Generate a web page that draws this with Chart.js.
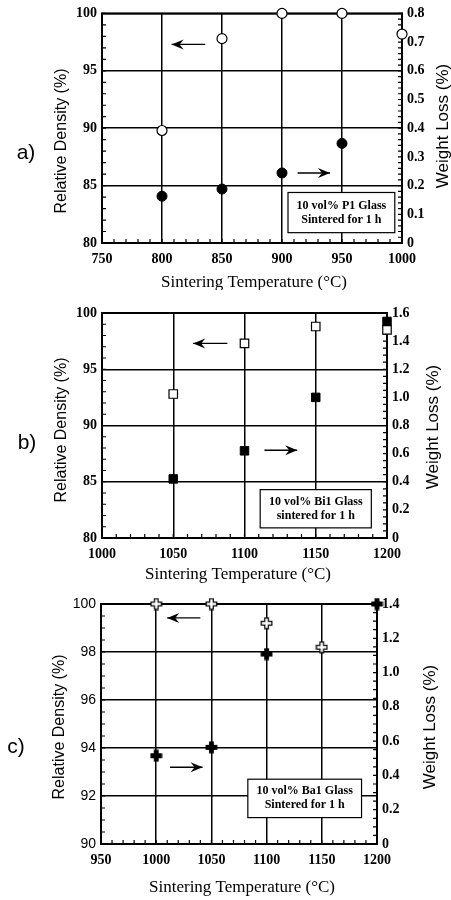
<!DOCTYPE html>
<html>
<head>
<title>Sintering Temperature charts</title>
<script src="https://cdn.jsdelivr.net/npm/chart.js"></script>
<style>
body { margin: 0; background: #fff; }
canvas { position: absolute; left: 0; }
</style>
</head>
<body>
<canvas id="chart-a" width="451" height="290" style="top:0px"></canvas>
<canvas id="chart-b" width="451" height="300" style="top:290px"></canvas>
<canvas id="chart-c" width="451" height="310" style="top:590px"></canvas>
<script>
// a) 10 vol% P1 glass
const aDensTemps = [800, 850, 900, 950, 1000];
const aDensity = [89.8, 97.8, 100, 100, 98.2];
const aLossTemps = [800, 850, 900, 950];
const aLoss = [0.163, 0.188, 0.244, 0.347];
const aXTicks = [750, 800, 850, 900, 950, 1000];
const aYTicks = [80, 85, 90, 95, 100];
const aY2Ticks = [0, 0.1, 0.2, 0.3, 0.4, 0.5, 0.6, 0.7, 0.8];

// b) 10 vol% Bi1 glass
const bDensTemps = [1050, 1100, 1150, 1200];
const bDensity = [92.8, 97.3, 98.8, 98.5];
const bLossTemps = [1050, 1100, 1150, 1200];
const bLoss = [0.42, 0.62, 1.0, 1.54];
const bXTicks = [1000, 1050, 1100, 1150, 1200];
const bYTicks = [80, 85, 90, 95, 100];
const bY2Ticks = [0, 0.2, 0.4, 0.6, 0.8, 1.0, 1.2, 1.4, 1.6];

// c) 10 vol% Ba1 glass
const cDensTemps = [1000, 1050, 1100, 1150];
const cDensity = [100, 100, 99.2, 98.2];
const cLossTemps = [1000, 1050, 1100, 1200];
const cLoss = [0.515, 0.564, 1.108, 1.4];
const cXTicks = [950, 1000, 1050, 1100, 1150, 1200];
const cYTicks = [90, 92, 94, 96, 98, 100];
const cY2Ticks = [0, 0.2, 0.4, 0.6, 0.8, 1.0, 1.2, 1.4];

const SERIF = '"Liberation Serif", "Times New Roman", serif';
const SANS = '"Liberation Sans", Arial, sans-serif';

function fmt1(v) { return v === 0 ? '0' : v.toFixed(1); }

function crossImage(fill) {
    const c = document.createElement('canvas');
    c.width = 13; c.height = 13;
    const g = c.getContext('2d');
    const m = 6.5, w = 1.8, l = 5.3;
    const pts = [[m-w,m-l],[m+w,m-l],[m+w,m-w],[m+l,m-w],[m+l,m+w],[m+w,m+w],
                 [m+w,m+l],[m-w,m+l],[m-w,m+w],[m-l,m+w],[m-l,m-w],[m-w,m-w]];
    g.beginPath();
    pts.forEach((p, i) => i ? g.lineTo(p[0], p[1]) : g.moveTo(p[0], p[1]));
    g.closePath();
    g.fillStyle = fill;
    g.fill();
    g.lineWidth = 1.2;
    g.strokeStyle = '#000';
    g.stroke();
    return c;
}

function drawArrow(ctx, x1, x2, y, dir) {
    const head = dir === 'left' ? x1 : x2;
    const s = dir === 'left' ? 1 : -1;
    ctx.beginPath();
    ctx.moveTo(x1, y);
    ctx.lineTo(x2, y);
    ctx.lineWidth = 1.4;
    ctx.stroke();
    ctx.beginPath();
    ctx.moveTo(head, y);
    ctx.lineTo(head + s * 12, y - 5);
    ctx.lineTo(head + s * 8, y);
    ctx.lineTo(head + s * 12, y + 5);
    ctx.closePath();
    ctx.fill();
}

function decor(p) {
    return {
        id: 'decor',
        beforeDatasetsDraw(chart) {
            const { ctx, chartArea: a, scales } = chart;
            ctx.save();
            ctx.strokeStyle = '#000';
            ctx.lineWidth = 1.2;
            ctx.beginPath();
            const steps = (s, step, fn) => {
                const n = Math.round((s.max - s.min) / step);
                for (let i = 0; i <= n; i++) fn(s.getPixelForValue(s.min + i * step));
            };
            steps(scales.x, p.minor.x, px => { ctx.moveTo(px, a.bottom); ctx.lineTo(px, a.bottom - 4); });
            steps(scales.y, p.minor.y, py => { ctx.moveTo(a.left, py); ctx.lineTo(a.left + 4, py); });
            steps(scales.y2, p.minor.y2, py => { ctx.moveTo(a.right + 1, py); ctx.lineTo(a.right - 4, py); });
            ctx.stroke();
            ctx.lineWidth = 2;
            ctx.strokeRect(a.left, a.top, a.right - a.left, a.bottom - a.top);
            ctx.restore();
        },
        afterDatasetsDraw(chart) {
            const { ctx, scales: { x, y } } = chart;
            ctx.save();
            ctx.strokeStyle = '#000';
            ctx.fillStyle = '#000';
            p.arrows.forEach(ar => drawArrow(ctx, x.getPixelForValue(ar.x1), x.getPixelForValue(ar.x2), y.getPixelForValue(ar.y), ar.dir));
            const b = p.box;
            const bx1 = x.getPixelForValue(b.x1), bx2 = x.getPixelForValue(b.x2);
            const by1 = y.getPixelForValue(b.y1), by2 = y.getPixelForValue(b.y2);
            ctx.fillStyle = '#fff';
            ctx.fillRect(bx1, by1, bx2 - bx1, by2 - by1);
            ctx.lineWidth = 1.2;
            ctx.strokeRect(bx1, by1, bx2 - bx1, by2 - by1);
            ctx.fillStyle = '#000';
            ctx.font = 'bold 12px ' + SERIF;
            ctx.textAlign = 'center';
            ctx.textBaseline = 'middle';
            const cx = (bx1 + bx2) / 2, cy = (by1 + by2) / 2;
            ctx.fillText(b.lines[0], cx, cy - 7);
            ctx.fillText(b.lines[1], cx, cy + 7);
            ctx.restore();
        },
        afterDraw(chart) {
            const ctx = chart.ctx;
            ctx.save();
            ctx.fillStyle = '#000';
            ctx.textAlign = 'center';
            ctx.textBaseline = 'middle';
            [[p.yTitle, 'Relative Density (%)', 16], [p.y2Title, 'Weight Loss (%)', 17]].forEach(([pos, txt, size]) => {
                ctx.save();
                ctx.font = size + 'px ' + SANS;
                ctx.translate(pos[0], pos[1]);
                ctx.rotate(-Math.PI / 2);
                ctx.fillText(txt, 0, 0);
                ctx.restore();
            });
            ctx.font = '17px ' + SERIF;
            ctx.fillText('Sintering Temperature (°C)', p.xTitle[0], p.xTitle[1]);
            ctx.font = '21px ' + SANS;
            ctx.fillText(p.letter, p.letterPos[0], p.letterPos[1]);
            ctx.restore();
        }
    };
}

function makePanel(id, p) {
    const canvas = document.getElementById(id);
    const W = canvas.width, H = canvas.height;
    const tickFont = { family: SERIF, size: 14, weight: 'bold' };
    new Chart(canvas, {
        type: 'scatter',
        data: {
            datasets: [
                {
                    data: p.densTemps.map((t, i) => ({ x: t, y: p.density[i] })),
                    yAxisID: 'y',
                    pointStyle: p.openStyle,
                    pointRadius: p.radius,
                    backgroundColor: '#fff',
                    borderColor: '#000',
                    borderWidth: 1.2,
                    clip: false
                },
                {
                    data: p.lossTemps.map((t, i) => ({ x: t, y: p.loss[i] })),
                    yAxisID: 'y2',
                    pointStyle: p.filledStyle,
                    pointRadius: p.radius,
                    backgroundColor: '#000',
                    borderColor: '#000',
                    borderWidth: 1,
                    clip: false
                }
            ]
        },
        options: {
            responsive: false,
            animation: false,
            events: [],
            layout: { padding: { top: p.area.top, left: 0, right: 0, bottom: 0 } },
            plugins: { legend: { display: false }, tooltip: { enabled: false } },
            scales: {
                x: {
                    type: 'linear', position: 'bottom',
                    min: p.xTicks[0], max: p.xTicks[p.xTicks.length - 1],
                    afterBuildTicks: s => { s.ticks = p.xTicks.map(v => ({ value: v })); },
                    afterFit: s => { s.height = H - p.area.bottom; },
                    ticks: { font: tickFont, color: '#000', padding: 8, maxRotation: 0, autoSkip: false, callback: v => String(v) },
                    grid: { color: '#000', lineWidth: 1.5, drawTicks: false },
                    border: { display: false }
                },
                y: {
                    type: 'linear', position: 'left',
                    min: p.yTicks[0], max: p.yTicks[p.yTicks.length - 1],
                    afterBuildTicks: s => { s.ticks = p.yTicks.map(v => ({ value: v })); },
                    afterFit: s => { s.width = p.area.left; },
                    ticks: { font: p.yFont || tickFont, color: '#000', padding: 5, autoSkip: false, callback: v => String(v) },
                    grid: { color: '#000', lineWidth: 1.5, drawTicks: false },
                    border: { display: false }
                },
                y2: {
                    type: 'linear', position: 'right',
                    min: p.y2Ticks[0], max: p.y2Ticks[p.y2Ticks.length - 1],
                    afterBuildTicks: s => { s.ticks = p.y2Ticks.map(v => ({ value: v })); },
                    afterFit: s => { s.width = W - p.area.right; },
                    ticks: { font: tickFont, color: '#000', padding: 5, autoSkip: false, callback: fmt1 },
                    grid: { display: false, drawTicks: false },
                    border: { display: false }
                }
            }
        },
        plugins: [decor(p)]
    });
}

makePanel('chart-a', {
    densTemps: aDensTemps, density: aDensity, lossTemps: aLossTemps, loss: aLoss,
    xTicks: aXTicks, yTicks: aYTicks, y2Ticks: aY2Ticks,
    openStyle: 'circle', filledStyle: 'circle', radius: 5,
    area: { left: 102, right: 402, top: 12, bottom: 243 },
    minor: { x: 10, y: 1, y2: 0.02 },
    arrows: [{ x1: 808, x2: 836, y: 97.3, dir: 'left' }, { x1: 913, x2: 940, y: 86.1, dir: 'right' }],
    box: { x1: 905, x2: 994, y1: 84.4, y2: 80.9, lines: ['10 vol% P1 Glass', 'Sintered for 1 h'] },
    yTitle: [62, 141], y2Title: [443, 126], xTitle: [254, 283],
    letter: 'a)', letterPos: [26, 153]
});

makePanel('chart-b', {
    densTemps: bDensTemps, density: bDensity, lossTemps: bLossTemps, loss: bLoss,
    xTicks: bXTicks, yTicks: bYTicks, y2Ticks: bY2Ticks,
    openStyle: 'rect', filledStyle: 'rect', radius: 6,
    area: { left: 102, right: 387, top: 23, bottom: 248 },
    minor: { x: 10, y: 1, y2: 0.05 },
    arrows: [{ x1: 1064, x2: 1088, y: 97.3, dir: 'left' }, { x1: 1114, x2: 1137, y: 87.8, dir: 'right' }],
    box: { x1: 1111, x2: 1189, y1: 84.3, y2: 80.9, lines: ['10 vol% Bi1 Glass', 'sintered for 1 h'] },
    yTitle: [62, 140], y2Title: [433, 137], xTitle: [238, 285],
    letter: 'b)', letterPos: [27, 153]
});

makePanel('chart-c', {
    densTemps: cDensTemps, density: cDensity, lossTemps: cLossTemps, loss: cLoss,
    xTicks: cXTicks, yTicks: cYTicks, y2Ticks: cY2Ticks,
    openStyle: crossImage('#fff'), filledStyle: crossImage('#000'), radius: 6,
    yFont: { family: SANS, size: 14 },
    area: { left: 101, right: 377, top: 14, bottom: 254 },
    minor: { x: 10, y: 0.5, y2: 0.05 },
    arrows: [{ x1: 1010, x2: 1040, y: 99.42, dir: 'left' }, { x1: 1012.5, x2: 1042, y: 93.2, dir: 'right' }],
    box: { x1: 1083, x2: 1186, y1: 92.7, y2: 91.1, lines: ['10 vol% Ba1 Glass', 'Sintered for 1 h'] },
    yTitle: [60, 137], y2Title: [430, 137], xTitle: [242, 298],
    letter: 'c)', letterPos: [16, 157]
});
</script>
</body>
</html>
